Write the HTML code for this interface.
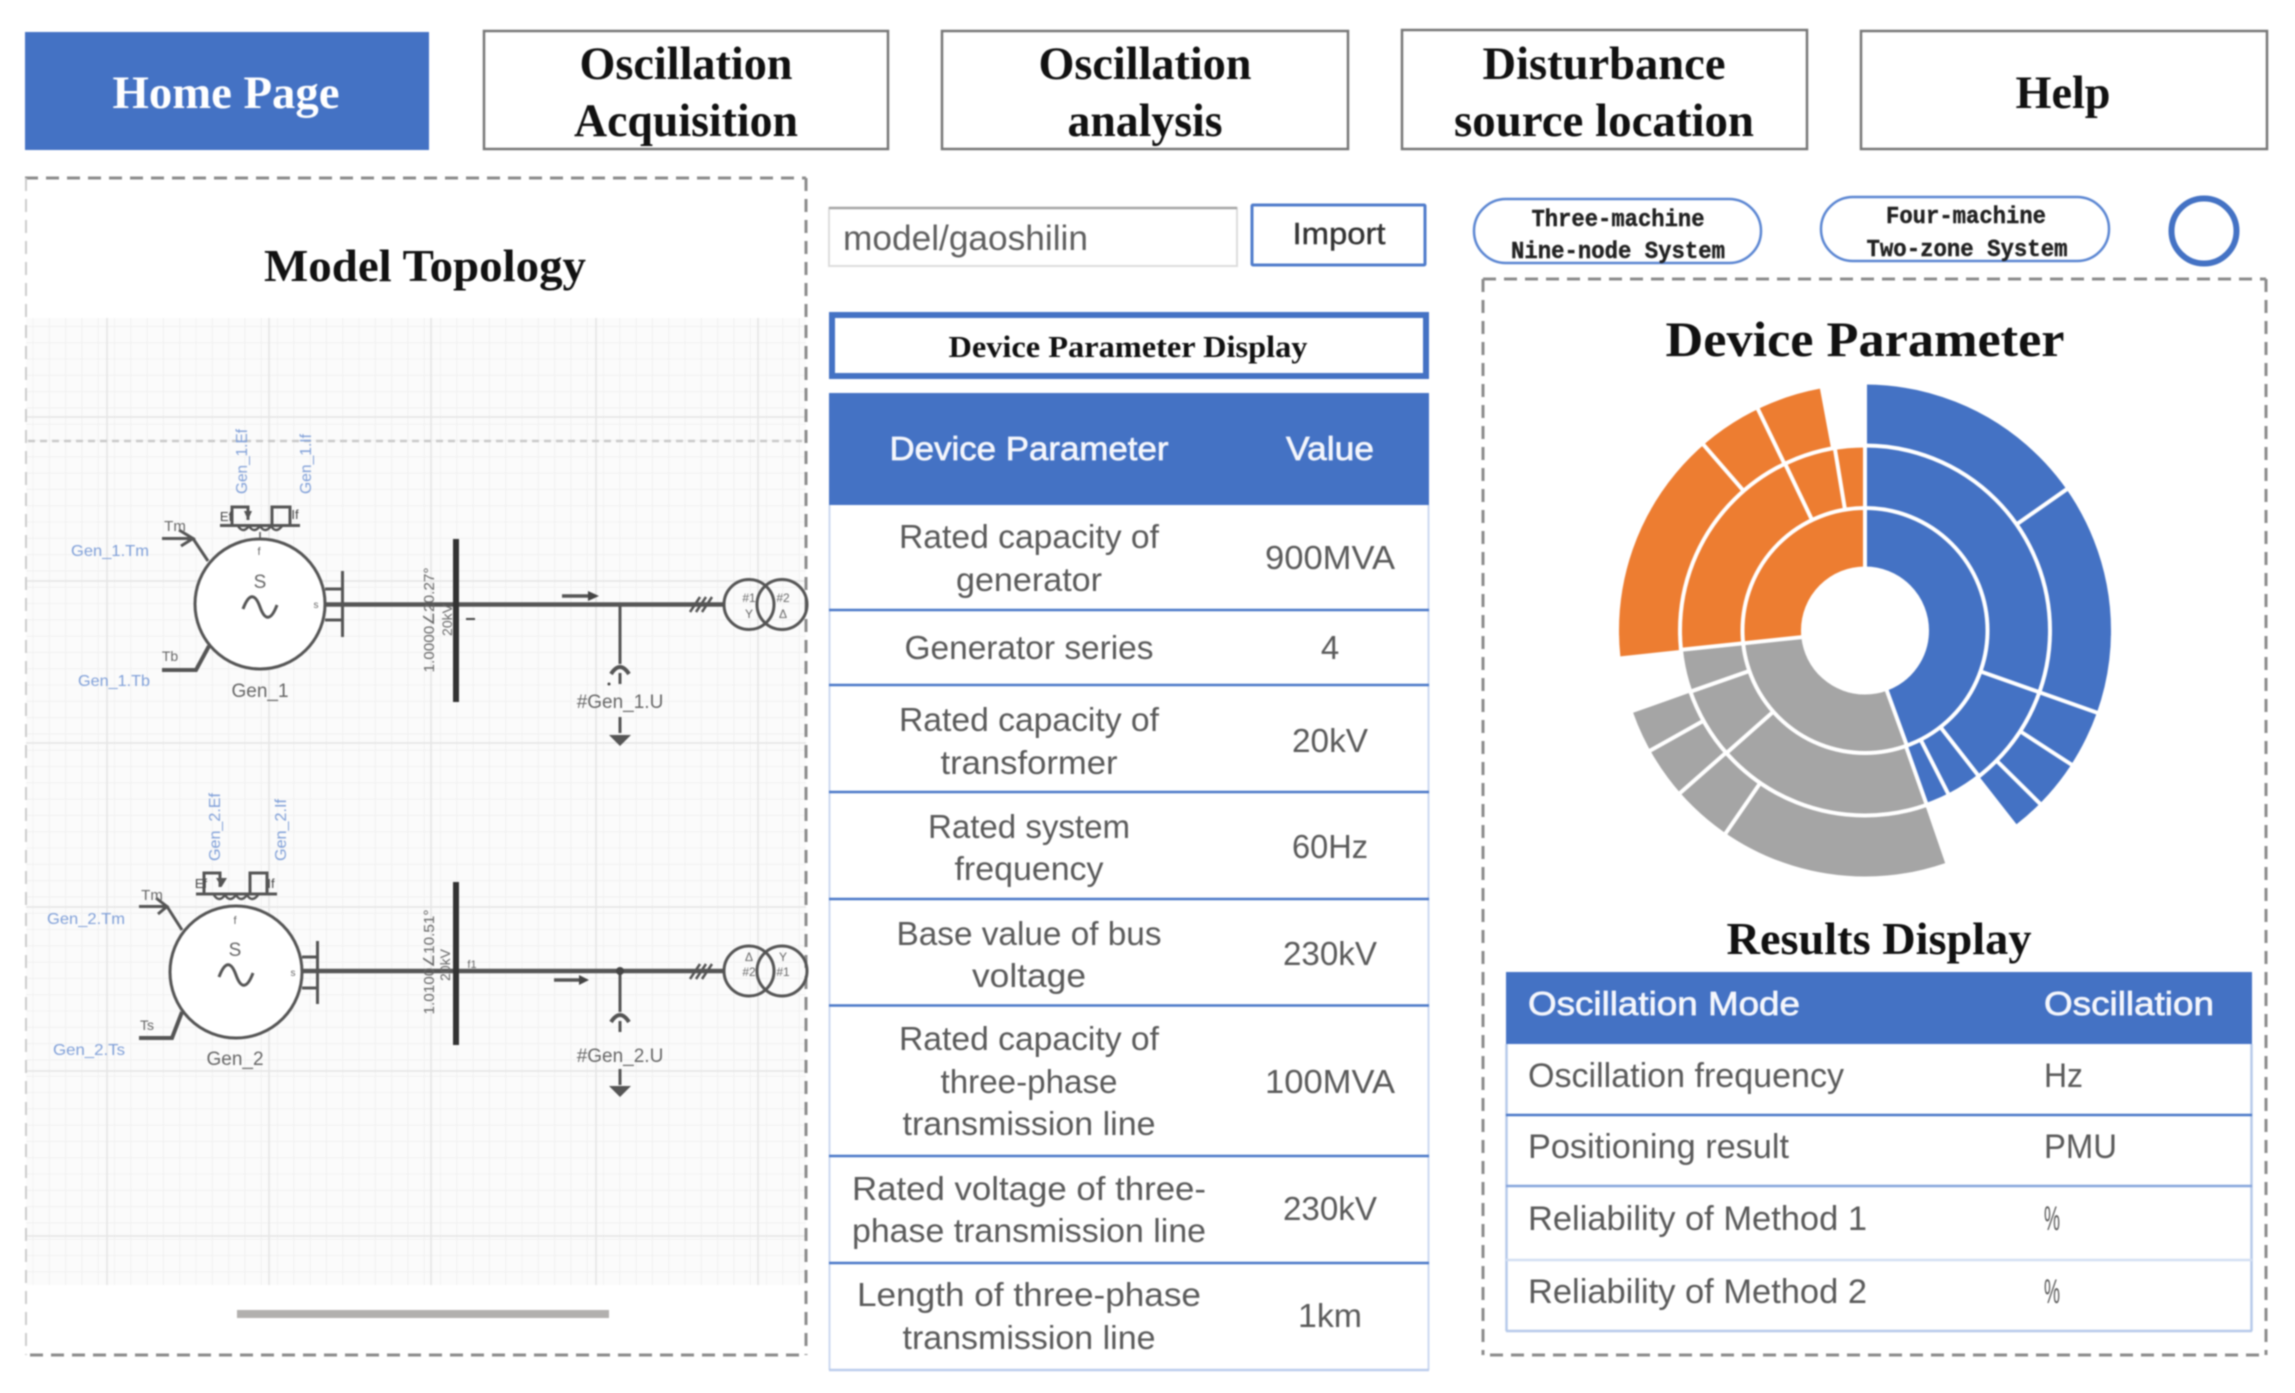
<!DOCTYPE html>
<html>
<head>
<meta charset="utf-8">
<style>
html,body{margin:0;padding:0;background:#fff}
svg{display:block;filter:blur(0.8px)}
.nav{font-family:"Liberation Serif",serif;font-weight:bold;font-size:47px;fill:#111;text-anchor:middle}
.ttl{font-family:"Liberation Serif",serif;font-weight:bold;fill:#111;text-anchor:middle}
.c{font-family:"Liberation Sans",sans-serif;font-size:33px;fill:#5a5a5a;text-anchor:middle}
.h{font-family:"Liberation Sans",sans-serif;font-size:33px;fill:#f4f6fc;stroke:#f4f6fc;stroke-width:.7}
.r{font-family:"Liberation Sans",sans-serif;font-size:34px;fill:#5a5a5a}
.m{font-family:"Liberation Mono",monospace;font-size:24px;font-weight:bold;fill:#222;text-anchor:middle;stroke:#222;stroke-width:.4}
.bl{font-family:"Liberation Sans",sans-serif;font-size:16px;fill:#7f9fd8}
.gy{font-family:"Liberation Sans",sans-serif;font-size:19px;fill:#666;text-anchor:middle}
.sm{font-family:"Liberation Sans",sans-serif;font-size:13px;fill:#666;text-anchor:middle}
.w{stroke:#555;fill:none;stroke-width:3}
.s{fill:none;stroke-width:61}
.sep{stroke:#fff;stroke-width:4}
</style>
</head>
<body>
<svg xmlns="http://www.w3.org/2000/svg" width="2295" height="1393" viewBox="0 0 2295 1393">
<defs>
<pattern id="fg" width="16.3" height="16.3" patternUnits="userSpaceOnUse">
<rect width="16.3" height="16.3" fill="#fbfbfb"/>
<path d="M0 0H16.3M0 0V16.3" stroke="#eeeeee" stroke-width="1.5" fill="none"/>
</pattern>
</defs>
<rect width="2295" height="1393" fill="#fff"/>

<!-- Nav -->
<rect x="25" y="32" width="404" height="118" fill="#4472c4"/>
<text class="nav" style="fill:#fff" x="226" y="108" textLength="227" lengthAdjust="spacingAndGlyphs">Home Page</text>
<g fill="#fff" stroke="#777" stroke-width="2.5">
<rect x="484" y="31" width="404" height="118"/>
<rect x="942" y="31" width="406" height="118"/>
<rect x="1402" y="30" width="405" height="119"/>
<rect x="1861" y="31" width="406" height="118"/>
</g>
<text class="nav" x="686" y="79" textLength="213" lengthAdjust="spacingAndGlyphs">Oscillation</text>
<text class="nav" x="686" y="136" textLength="224" lengthAdjust="spacingAndGlyphs">Acquisition</text>
<text class="nav" x="1145" y="79" textLength="213" lengthAdjust="spacingAndGlyphs">Oscillation</text>
<text class="nav" x="1145" y="136" textLength="155" lengthAdjust="spacingAndGlyphs">analysis</text>
<text class="nav" x="1604" y="79" textLength="243" lengthAdjust="spacingAndGlyphs">Disturbance</text>
<text class="nav" x="1604" y="136" textLength="300" lengthAdjust="spacingAndGlyphs">source location</text>
<text class="nav" x="2063" y="108" textLength="95" lengthAdjust="spacingAndGlyphs">Help</text>

<!-- Left panel -->
<rect x="26" y="318" width="780" height="967" fill="url(#fg)"/>
<g stroke="#e7e7e7" stroke-width="1.8" fill="none">
<path d="M107 318V1285M269 318V1285M431 318V1285M596 318V1285M758 318V1285"/>
<path d="M26 417H806M26 581H806M26 743H806M26 907H806M26 1071H806M26 1236H806"/>
</g>
<path d="M28 441H802" stroke="#c9c9c9" stroke-width="2.5" stroke-dasharray="7 5" fill="none"/>
<g fill="none" stroke="#8c8c8c" stroke-width="3" stroke-dasharray="13 8">
<path d="M25 178H806"/><path d="M806 178V1355"/><path d="M30 1355H806"/>
</g>
<path d="M26 178V1355" stroke="#cccccc" stroke-width="2" stroke-dasharray="13 8" fill="none"/>
<text class="ttl" style="font-size:46px" x="425" y="281" textLength="322" lengthAdjust="spacingAndGlyphs">Model Topology</text>
<rect x="237" y="1310" width="372" height="8" fill="#b2b0ae"/>

<!-- Circuit 1 -->
<g class="w">
<circle cx="260" cy="604" r="65" fill="#fff"/>
<path d="M325 604.5H724" stroke-width="4.5"/>
<path d="M325 589H342M325 620H342M342.500 571V637" />
<path d="M162 538.500H193L208 561M179 530L193 538.500L181 546"/>
<path d="M162 670H196L209 646" stroke-width="4"/>
<path d="M220 525.500H300" />
<path d="M232 525V507H248V520M272 525V507H290V525"/>
<path d="M238 526q5 8 11 0q5 8 11 0q5 8 11 0q5 8 11 0" stroke-width="2.5"/>
<path d="M244 511H252L248 520Z" fill="#555" stroke="none"/>
<path d="M260 532V540" stroke-width="1.500"/>
<path d="M620 604.500V664M620 673V684M620 717V733"/>
<path d="M611 674Q620 660 629 674" stroke-width="4"/>
<path d="M609 735H631L620 746Z" fill="#555" stroke="none"/>
<path d="M562 596H590" stroke-width="3.500"/><path d="M588 591L599 596L588 601Z" fill="#444" stroke="none"/>
<path d="M690 612L700 597M696 612L706 597M702 612L712 597" stroke-width="2.500"/>
<circle cx="749" cy="604.500" r="25"/><circle cx="782" cy="604.500" r="25"/>
<path d="M243 609c6 -16 12 -16 17 -2s11 14 17 -2" stroke-width="3"/>
</g>
<rect x="453" y="539" width="6" height="163" fill="#333"/>
<text class="gy" x="260" y="588" font-size="20">S</text>
<text class="gy" x="260" y="697">Gen_1</text>
<text class="gy" x="620" y="708">#Gen_1.U</text>
<text class="sm" x="175" y="531" style="font-size:15px">Tm</text>
<text class="sm" x="170" y="661" style="font-size:14px">Tb</text>
<text class="sm" x="316" y="608" style="font-size:10px">s</text>
<text class="sm" x="259" y="555" style="font-size:11px">f</text>
<text class="sm" x="226" y="521" style="font-size:13px;fill:#444">Ef</text>
<text class="sm" x="295" y="519" style="font-size:13px;fill:#444">If</text>
<text class="bl" x="71" y="556" textLength="78" lengthAdjust="spacingAndGlyphs">Gen_1.Tm</text>
<text class="bl" x="78" y="686" textLength="72" lengthAdjust="spacingAndGlyphs">Gen_1.Tb</text>
<text class="bl" transform="translate(247,494) rotate(-90)" textLength="65" lengthAdjust="spacingAndGlyphs">Gen_1.Ef</text>
<text class="bl" transform="translate(311,494) rotate(-90)" textLength="60" lengthAdjust="spacingAndGlyphs">Gen_1.If</text>
<text class="gy" style="font-size:15px" transform="translate(434,620) rotate(-90)" textLength="105" lengthAdjust="spacingAndGlyphs">1.0000∠20.27°</text>
<text class="gy" style="font-size:14px" transform="translate(452,620) rotate(-90)">20kV</text>
<text class="sm" x="749" y="602" style="font-size:12px">#1</text><text class="sm" x="749" y="618" style="font-size:12px">Y</text>
<text class="sm" x="783" y="602" style="font-size:12px">#2</text><text class="sm" x="783" y="618" style="font-size:12px">Δ</text>
<path d="M466 619H475" stroke="#444" stroke-width="2"/>
<circle cx="609" cy="684" r="1.500" fill="#444"/>

<!-- Circuit 2 -->
<g class="w">
<circle cx="236" cy="972" r="66" fill="#fff"/>
<path d="M302 971H724" stroke-width="4.5"/>
<path d="M302 957H317M302 988H317M317.500 941V1004" />
<path d="M139 906.500H167L182 930M156 898L167 906.500L158 914"/>
<path d="M139 1038H172L182 1012" stroke-width="4"/>
<path d="M196 894H277"/>
<path d="M204 894V873H220V887M250 894V873H267V894"/>
<path d="M214 895q5 8 11 0q5 8 11 0q5 8 11 0q5 8 11 0" stroke-width="2.5"/>
<path d="M216 878H227L221.500 887Z" fill="#555" stroke="none"/>
<path d="M620 971V1012M620 1021V1032M620 1069V1085"/>
<path d="M611 1022Q620 1008 629 1022" stroke-width="4"/>
<path d="M609 1086H631L620 1097Z" fill="#555" stroke="none"/>
<path d="M554 980H580" stroke-width="3.500"/><path d="M579 975L589 980L579 985Z" fill="#444" stroke="none"/>
<path d="M690 979L700 964M696 979L706 964M702 979L712 964" stroke-width="2.500"/>
<circle cx="749" cy="971" r="25"/><circle cx="782" cy="971" r="25"/>
<path d="M219 977c6 -16 12 -16 17 -2s11 14 17 -2" stroke-width="3"/>
</g>
<rect x="453" y="882" width="6" height="163" fill="#333"/>
<circle cx="620" cy="971" r="4" fill="#444"/>
<text class="gy" x="235" y="956" font-size="20">S</text>
<text class="gy" x="235" y="1065">Gen_2</text>
<text class="gy" x="620" y="1062">#Gen_2.U</text>
<text class="sm" x="152" y="900" style="font-size:15px">Tm</text>
<text class="sm" x="147" y="1030" style="font-size:14px">Ts</text>
<text class="sm" x="293" y="976" style="font-size:10px">s</text>
<text class="sm" x="235" y="924" style="font-size:11px">f</text>
<text class="sm" x="201" y="888" style="font-size:13px;fill:#444">Ef</text>
<text class="sm" x="271" y="888" style="font-size:13px;fill:#444">If</text>
<text class="bl" x="47" y="924" textLength="78" lengthAdjust="spacingAndGlyphs">Gen_2.Tm</text>
<text class="bl" x="53" y="1055" textLength="72" lengthAdjust="spacingAndGlyphs">Gen_2.Ts</text>
<text class="bl" transform="translate(220,861) rotate(-90)" textLength="68" lengthAdjust="spacingAndGlyphs">Gen_2.Ef</text>
<text class="bl" transform="translate(286,861) rotate(-90)" textLength="62" lengthAdjust="spacingAndGlyphs">Gen_2.If</text>
<text class="gy" style="font-size:15px" transform="translate(434,962) rotate(-90)" textLength="105" lengthAdjust="spacingAndGlyphs">1.0100∠10.51°</text>
<text class="gy" style="font-size:14px" transform="translate(450,965) rotate(-90)">20kV</text>
<text class="sm" x="749" y="976" style="font-size:12px">#2</text><text class="sm" x="749" y="961" style="font-size:12px">Δ</text>
<text class="sm" x="783" y="976" style="font-size:12px">#1</text><text class="sm" x="783" y="961" style="font-size:12px">Y</text>
<text class="sm" x="472" y="968" style="font-size:11px">f1</text>

<!-- Middle -->
<rect x="829" y="208" width="408" height="58" fill="#fff" stroke="#dcdcdc" stroke-width="2"/>
<path d="M829 208H1237" stroke="#a5a5a5" stroke-width="2.5"/>
<text x="843" y="250" font-family="Liberation Sans,sans-serif" font-size="35" fill="#5f5f5f" textLength="245" lengthAdjust="spacingAndGlyphs">model/gaoshilin</text>
<rect x="1252" y="205" width="173" height="60" fill="#fff" stroke="#4f7ccb" stroke-width="3" rx="1"/>
<text x="1339" y="244" font-family="Liberation Sans,sans-serif" font-size="31" fill="#333" stroke="#333" stroke-width=".4" text-anchor="middle" textLength="93" lengthAdjust="spacingAndGlyphs">Import</text>
<rect x="832" y="315" width="594" height="61" fill="#fff" stroke="#4472c4" stroke-width="6"/>
<text class="ttl" style="font-size:31px" x="1128" y="357" textLength="359" lengthAdjust="spacingAndGlyphs">Device Parameter Display</text>

<rect x="829" y="393" width="600" height="112" fill="#4472c4"/>
<path d="M829.500 505V1370M1428.500 505V1370" stroke="#cdd9f0" stroke-width="2" fill="none"/>
<g stroke="#4a78c8" stroke-width="2.5">
<path d="M829 610H1429M829 685H1429M829 792H1429M829 899H1429M829 1005.500H1429M829 1156H1429M829 1263H1429"/>
</g>
<path d="M829 1370H1429" stroke="#bccdec" stroke-width="2.5"/>
<text class="h" style="text-anchor:middle" x="1029" y="460" textLength="279" lengthAdjust="spacingAndGlyphs">Device Parameter</text>
<text class="h" style="text-anchor:middle" x="1330" y="460" textLength="88" lengthAdjust="spacingAndGlyphs">Value</text>

<text class="c" x="1029" y="548" textLength="260" lengthAdjust="spacingAndGlyphs">Rated capacity of</text>
<text class="c" x="1029" y="591" textLength="146" lengthAdjust="spacingAndGlyphs">generator</text>
<text class="c" x="1029" y="659" textLength="249" lengthAdjust="spacingAndGlyphs">Generator series</text>
<text class="c" x="1029" y="731" textLength="260" lengthAdjust="spacingAndGlyphs">Rated capacity of</text>
<text class="c" x="1029" y="774" textLength="177" lengthAdjust="spacingAndGlyphs">transformer</text>
<text class="c" x="1029" y="838" textLength="202" lengthAdjust="spacingAndGlyphs">Rated system</text>
<text class="c" x="1029" y="880" textLength="149" lengthAdjust="spacingAndGlyphs">frequency</text>
<text class="c" x="1029" y="945" textLength="265" lengthAdjust="spacingAndGlyphs">Base value of bus</text>
<text class="c" x="1029" y="987" textLength="114" lengthAdjust="spacingAndGlyphs">voltage</text>
<text class="c" x="1029" y="1050" textLength="260" lengthAdjust="spacingAndGlyphs">Rated capacity of</text>
<text class="c" x="1029" y="1093" textLength="177" lengthAdjust="spacingAndGlyphs">three-phase</text>
<text class="c" x="1029" y="1135" textLength="253" lengthAdjust="spacingAndGlyphs">transmission line</text>
<text class="c" x="1029" y="1200" textLength="354" lengthAdjust="spacingAndGlyphs">Rated voltage of three-</text>
<text class="c" x="1029" y="1242" textLength="354" lengthAdjust="spacingAndGlyphs">phase transmission line</text>
<text class="c" x="1029" y="1306" textLength="344" lengthAdjust="spacingAndGlyphs">Length of three-phase</text>
<text class="c" x="1029" y="1349" textLength="253" lengthAdjust="spacingAndGlyphs">transmission line</text>

<text class="c" x="1330" y="569" textLength="130" lengthAdjust="spacingAndGlyphs">900MVA</text>
<text class="c" x="1330" y="659">4</text>
<text class="c" x="1330" y="752" textLength="76" lengthAdjust="spacingAndGlyphs">20kV</text>
<text class="c" x="1330" y="858" textLength="76" lengthAdjust="spacingAndGlyphs">60Hz</text>
<text class="c" x="1330" y="965" textLength="94" lengthAdjust="spacingAndGlyphs">230kV</text>
<text class="c" x="1330" y="1093" textLength="130" lengthAdjust="spacingAndGlyphs">100MVA</text>
<text class="c" x="1330" y="1220" textLength="94" lengthAdjust="spacingAndGlyphs">230kV</text>
<text class="c" x="1330" y="1327" textLength="64" lengthAdjust="spacingAndGlyphs">1km</text>

<!-- Right top -->
<rect x="1474" y="199" width="287" height="64" rx="32" fill="#fff" stroke="#5b86d2" stroke-width="2.5"/>
<rect x="1821" y="197" width="288" height="64" rx="32" fill="#fff" stroke="#5b86d2" stroke-width="2.5"/>
<text class="m" x="1618" y="226" textLength="173" lengthAdjust="spacingAndGlyphs">Three-machine</text>
<text class="m" x="1618" y="258" textLength="214" lengthAdjust="spacingAndGlyphs">Nine-node System</text>
<text class="m" x="1966" y="223" textLength="160" lengthAdjust="spacingAndGlyphs">Four-machine</text>
<text class="m" x="1967" y="256" textLength="201" lengthAdjust="spacingAndGlyphs">Two-zone System</text>
<circle cx="2204" cy="231" r="32.500" fill="#fff" stroke="#4472c4" stroke-width="6"/>

<!-- Right panel -->
<g fill="none" stroke="#8c8c8c" stroke-width="3" stroke-dasharray="13 8">
<path d="M1483 279H2266"/><path d="M2266 279V1355"/><path d="M1483 279V1355"/><path d="M1490 1355H2266"/>
</g>
<text class="ttl" style="font-size:50px" x="1865" y="356" textLength="399" lengthAdjust="spacingAndGlyphs">Device Parameter</text>

<!-- Sunburst -->
<g transform="translate(1865,630.500)">
<g transform="rotate(-90)">
<!-- ring 0 -->
<g class="s" style="stroke-width:58">
<circle r="93" pathLength="360" stroke="#4472c4" stroke-dasharray="160 360" stroke-dashoffset="0"/>
<circle r="93" pathLength="360" stroke="#a5a5a5" stroke-dasharray="104 360" stroke-dashoffset="-160"/>
<circle r="93" pathLength="360" stroke="#ed7d31" stroke-dasharray="96 360" stroke-dashoffset="-264"/>
</g>
<!-- ring 1 -->
<g class="s" style="stroke-width:63">
<circle r="153.500" pathLength="360" stroke="#4472c4" stroke-dasharray="160.500 360" stroke-dashoffset="0"/>
<circle r="153.500" pathLength="360" stroke="#a5a5a5" stroke-dasharray="103.500 360" stroke-dashoffset="-160.500"/>
<circle r="153.500" pathLength="360" stroke="#ed7d31" stroke-dasharray="96 360" stroke-dashoffset="-264"/>
</g>
<!-- ring 2 -->
<g class="s">
<circle r="215.500" pathLength="360" stroke="#4472c4" stroke-dasharray="142 360" stroke-dashoffset="0"/>
<circle r="215.500" pathLength="360" stroke="#a5a5a5" stroke-dasharray="89.500 360" stroke-dashoffset="-161"/>
<circle r="215.500" pathLength="360" stroke="#ed7d31" stroke-dasharray="85.500 360" stroke-dashoffset="-264"/>
</g>
</g>
<!-- ring borders -->
<g fill="none" stroke="#fff" stroke-width="4">
<circle r="122.500"/><circle r="185"/>
</g>
<!-- radial separators -->
<g class="sep">
<line y1="-62" y2="-250" transform="rotate(0)"/>
<line y1="-62" y2="-124" transform="rotate(160)"/>
<line y1="-62" y2="-124" transform="rotate(264)"/>
<line y1="-122" y2="-187" transform="rotate(109.500)"/>
<line y1="-122" y2="-187" transform="rotate(142)"/>
<line y1="-122" y2="-187" transform="rotate(153)"/>
<line y1="-122" y2="-187" transform="rotate(160.500)"/>
<line y1="-122" y2="-187" transform="rotate(228.500)"/>
<line y1="-122" y2="-187" transform="rotate(250.700)"/>
<line y1="-122" y2="-187" transform="rotate(264)"/>
<line y1="-122" y2="-187" transform="rotate(334.400)"/>
<line y1="-122" y2="-187" transform="rotate(350.600)"/>
<line y1="-185" y2="-249" transform="rotate(55)"/>
<line y1="-185" y2="-249" transform="rotate(109.500)"/>
<line y1="-185" y2="-249" transform="rotate(123)"/>
<line y1="-185" y2="-249" transform="rotate(134.700)"/>
<line y1="-185" y2="-249" transform="rotate(214.500)"/>
<line y1="-185" y2="-249" transform="rotate(228.700)"/>
<line y1="-185" y2="-249" transform="rotate(240.800)"/>
<line y1="-185" y2="-249" transform="rotate(319)"/>
<line y1="-185" y2="-249" transform="rotate(334.200)"/>
</g>
</g>

<!-- Results -->
<text class="ttl" style="font-size:46px" x="1879" y="954" textLength="305" lengthAdjust="spacingAndGlyphs">Results Display</text>
<rect x="1506" y="972" width="746" height="72" fill="#4472c4"/>
<path d="M1506.500 1044V1331M2251.500 1044V1331M1506 1331H2252" stroke="#b6c9ea" stroke-width="2.5" fill="none"/>
<path d="M1506 1115H2252" stroke="#4a78c8" stroke-width="2.5"/>
<path d="M1506 1186H2252" stroke="#86a5dc" stroke-width="2.5"/>
<path d="M1506 1260H2252" stroke="#d3dff3" stroke-width="2.5"/>
<text class="h" x="1528" y="1015" textLength="272" lengthAdjust="spacingAndGlyphs">Oscillation Mode</text>
<text class="h" x="2044" y="1015" textLength="170" lengthAdjust="spacingAndGlyphs">Oscillation</text>
<text class="r" x="1528" y="1087" textLength="316" lengthAdjust="spacingAndGlyphs">Oscillation frequency</text>
<text class="r" x="2044" y="1087" textLength="39" lengthAdjust="spacingAndGlyphs">Hz</text>
<text class="r" x="1528" y="1158" textLength="261" lengthAdjust="spacingAndGlyphs">Positioning result</text>
<text class="r" x="2044" y="1158" textLength="73" lengthAdjust="spacingAndGlyphs">PMU</text>
<text class="r" x="1528" y="1230" textLength="339" lengthAdjust="spacingAndGlyphs">Reliability of Method 1</text>
<text class="r" x="2044" y="1230" textLength="16" lengthAdjust="spacingAndGlyphs">%</text>
<text class="r" x="1528" y="1303" textLength="339" lengthAdjust="spacingAndGlyphs">Reliability of Method 2</text>
<text class="r" x="2044" y="1303" textLength="16" lengthAdjust="spacingAndGlyphs">%</text>
</svg>
</body>
</html>
